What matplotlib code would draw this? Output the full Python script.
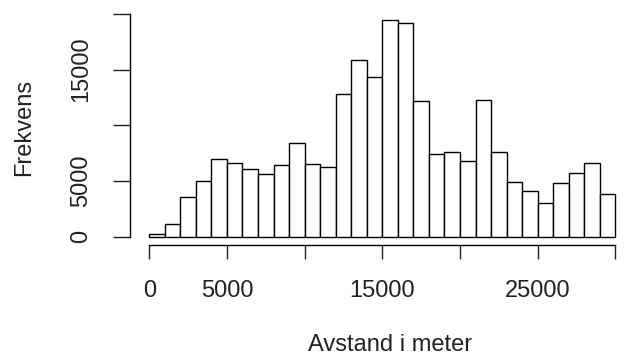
import numpy as np
import matplotlib.pyplot as plt

plt.rcParams['font.family'] = ['Liberation Sans', 'DejaVu Sans']

# bins of 1000 m, 0 - 30000
bin_edges = list(range(0, 31000, 1000))
counts = [200, 1140, 3570, 4950, 6930, 6630, 6030, 5580, 6390, 8400,
          6510, 6270, 12810, 15870, 14310, 19470, 19170, 12150, 7440, 7560,
          6780, 12270, 7590, 4920, 4080, 3030, 4800, 5670, 6630, 3810]

x_ticks = [0, 5000, 10000, 15000, 20000, 25000, 30000]
x_labels = ['0', '5000', '', '15000', '', '25000', '']
y_ticks = [0, 5000, 10000, 15000, 20000]
y_labels = ['0', '5000', '', '15000', '']

W, H = 631, 355
fig = plt.figure(figsize=(W / 100, H / 100), dpi=100)
ax = fig.add_axes([130 / W, 1 - 245 / H, (625 - 130) / W, (245 - 10) / H])

ax.bar(bin_edges[:-1], counts, width=np.diff(bin_edges), align='edge',
       color='white', edgecolor='black', linewidth=1.0)

ax.set_xlim(-1242, 30624)
ax.set_ylim(-764, 20360)

for s in ['top', 'right']:
    ax.spines[s].set_visible(False)
ax.spines['left'].set_bounds(0, 20000)
ax.spines['bottom'].set_bounds(0, 30000)
ax.spines['left'].set_linewidth(1.0)
ax.spines['bottom'].set_linewidth(1.0)

ax.set_xticks(x_ticks)
ax.set_xticklabels(x_labels)
ax.set_yticks(y_ticks)
ax.set_yticklabels(y_labels, rotation=90, va='center')
ax.tick_params(axis='x', length=10, width=1.0, pad=15, labelsize=17, colors='#222222')
ax.tick_params(axis='y', length=12, width=1.0, pad=15, labelsize=17, colors='#222222')
for lab in ax.get_yticklabels():
    lab.set_rotation_mode('anchor')
    lab.set_ha('center')
    lab.set_va('bottom')

fig.text(390 / W, 1 - 345 / H, 'Avstand i meter', ha='center', va='center',
         fontsize=17, color='#222222')
fig.text(24 / W, 1 - 127 / H, 'Frekvens', ha='center', va='center',
         rotation=90, fontsize=17, color='#222222')

fig.savefig('out.png', dpi=100)
